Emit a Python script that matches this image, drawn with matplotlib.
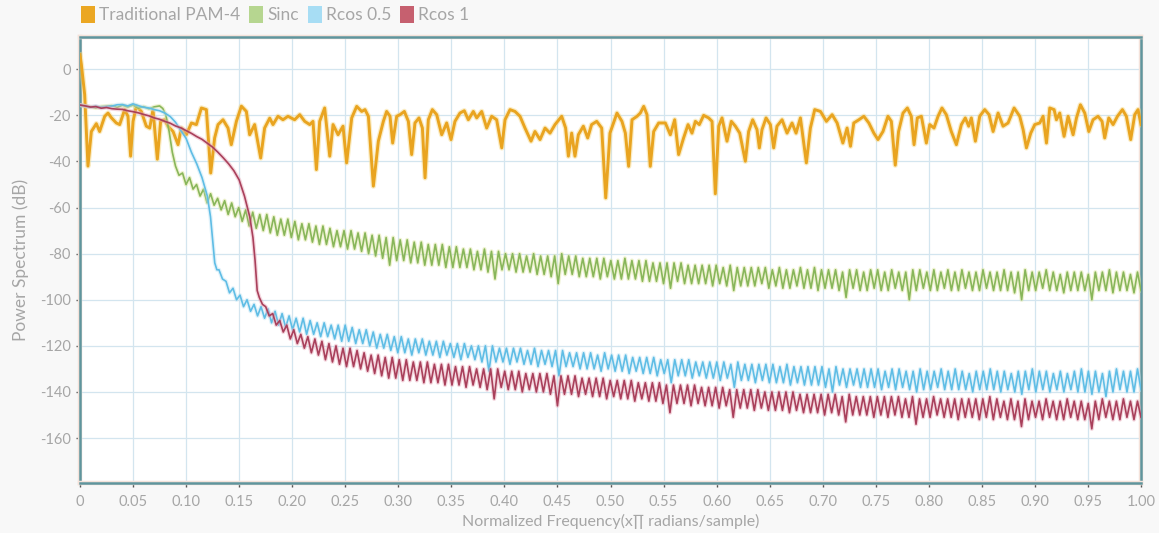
import numpy as np
import matplotlib
matplotlib.use('Agg')
import matplotlib.pyplot as plt
import matplotlib.patheffects as pe
from matplotlib.patches import Patch

######################################
# spectra (dB vs normalised frequency)
######################################

# traditional PAM-4: irregular, so kept as (freq, dB) pairs
pam4_freq = [
    0.0, 0.0013, 0.0044, 0.0075, 0.0107, 0.0154, 0.0185, 0.0233, 0.0264, 0.0295,
    0.0342, 0.0374, 0.0421, 0.0452, 0.0477, 0.0500, 0.0531, 0.0578, 0.0625, 0.0657,
    0.0688, 0.0729, 0.0760, 0.0798, 0.0829, 0.0877, 0.0924, 0.0955, 0.1002, 0.1050,
    0.1097, 0.1144, 0.1191, 0.1232, 0.1269, 0.1301, 0.1348, 0.1395, 0.1426, 0.1474,
    0.1521, 0.1568, 0.1599, 0.1646, 0.1703, 0.1740, 0.1788, 0.1819, 0.1866, 0.1913,
    0.1960, 0.2023, 0.2071, 0.2118, 0.2165, 0.2196, 0.2228, 0.2259, 0.2306, 0.2354,
    0.2385, 0.2432, 0.2479,
    0.2513, 0.2561, 0.2608, 0.2655, 0.2686, 0.2718, 0.2765, 0.2812, 0.2859, 0.2890,
    0.2922, 0.2947, 0.2985, 0.3016, 0.3057, 0.3095, 0.3126, 0.3157, 0.3195, 0.3227,
    0.3252, 0.3283, 0.3321, 0.3362, 0.3409, 0.3456, 0.3497, 0.3534, 0.3581, 0.3622,
    0.3660, 0.3707, 0.3739, 0.3786, 0.3833, 0.3880, 0.3927, 0.3975, 0.4006, 0.4053,
    0.4100, 0.4147, 0.4194, 0.4251, 0.4288, 0.4336, 0.4383, 0.4430, 0.4477, 0.4540,
    0.4577, 0.4603, 0.4634, 0.4665, 0.4697, 0.4744, 0.4785, 0.4822, 0.4870, 0.4917,
    0.4955, 0.4995,
    0.5061, 0.5108, 0.5140, 0.5171, 0.5203, 0.5250, 0.5281, 0.5313, 0.5344, 0.5375,
    0.5407, 0.5454, 0.5517, 0.5564, 0.5605, 0.5642, 0.5689, 0.5731, 0.5768, 0.5800,
    0.5837, 0.5878, 0.5925, 0.5957, 0.5988, 0.6020, 0.6051, 0.6098, 0.6139, 0.6177,
    0.6218, 0.6271, 0.6302, 0.6340, 0.6381, 0.6403, 0.6428, 0.6466, 0.6507, 0.6538,
    0.6569, 0.6617, 0.6664, 0.6711, 0.6749, 0.6790, 0.6846, 0.6884, 0.6925, 0.6979,
    0.7035, 0.7089, 0.7136, 0.7190, 0.7230, 0.7262, 0.7293, 0.7341, 0.7388, 0.7435,
    0.7482,
    0.7521, 0.7568, 0.7615, 0.7647, 0.7684, 0.7715, 0.7757, 0.7798, 0.7835, 0.7861,
    0.7892, 0.7930, 0.7977, 0.8009, 0.8049, 0.8087, 0.8124, 0.8165, 0.8212, 0.8260,
    0.8307, 0.8344, 0.8376, 0.8401, 0.8439, 0.8480, 0.8527, 0.8568, 0.8606, 0.8653,
    0.8700, 0.8747, 0.8804, 0.8857, 0.8889, 0.8920, 0.8961, 0.8999, 0.9046, 0.9077,
    0.9109, 0.9140, 0.9181, 0.9203, 0.9234, 0.9275, 0.9313, 0.9360, 0.9392, 0.9429,
    0.9470, 0.9508, 0.9548, 0.9595, 0.9633, 0.9658, 0.9696, 0.9737, 0.9778, 0.9825,
    0.9862, 0.9903, 0.9941, 0.9972, 1.0,
]
pam4_db = [
    6.3, 2, -11, -42, -27, -23.6, -27, -20.4, -19, -21,
    -23.3, -24, -17.5, -20.4, -37.7, -22.6, -16, -18.3, -24.7, -25.5,
    -17.5, -39, -22.6, -21.9, -24.7, -27, -32.7, -25.5, -28.4, -23.3,
    -24, -16.8, -17.5, -45, -29.8, -24, -21.9, -25.5, -32.7, -22.6,
    -16, -18.3, -28.4, -24, -38.5, -25.5, -21.2, -24, -20.4, -21.9,
    -20.4, -21.9, -19.7, -22.6, -24, -22.6, -43.5, -22.6, -16.8, -37.7,
    -24, -28.4, -24.7,
    -40.6, -21.1, -16.1, -18.3, -17.5, -20.4, -50.7, -31.2, -22.6, -18.3,
    -20.4, -32, -20.4, -19.7, -18.3, -22.6, -37, -23.3, -21.1, -25.5,
    -47.1, -21.9, -17.5, -19.7, -28.4, -23.3, -30.5, -22.6, -19, -18,
    -21.9, -18.3, -21.1, -18.3, -25.5, -20.4, -21.9, -34.1, -21.9, -17.5,
    -18.3, -20.4, -25.5, -31.2, -27, -30.5, -25.5, -27.7, -24, -20.4,
    -25.5, -37.7, -27.7, -37.7, -28.4, -24.7, -29.8, -24, -22.6, -25.5,
    -55.8, -27.7,
    -19, -22.6, -27.7, -42.1, -21.9, -20.4, -19, -16.1, -19.7, -42.1,
    -27, -23.3, -23.3, -28.4, -21.9, -37, -29.8, -24, -27.7, -22.6,
    -24, -20, -21.1, -22.6, -54, -24.7, -21.1, -31.2, -22.6, -24.7,
    -27.7, -39.9, -27, -21.9, -26.2, -34.1, -26.2, -21.1, -24, -34.1,
    -24.7, -21.9, -27.7, -23.3, -27.7, -21.1, -40.6, -25.5, -17.5, -18.3,
    -22.6, -19.7, -23.3, -32, -25.5, -33.4, -23.3, -21.9, -20.4, -23.3,
    -27.7,
    -30.5, -27, -20.4, -22.6, -41.6, -27, -19, -16.8, -20.4, -32.7,
    -21.1, -20.4, -32, -24, -25.5, -20.4, -16.8, -19.7, -27, -32.7,
    -24, -21.1, -24.7, -21.1, -31.2, -20.4, -17.5, -19.7, -27, -19,
    -24.7, -23.3, -16.8, -20.4, -26.2, -34.1, -27.7, -24, -23.3, -20.4,
    -32, -16.8, -17.5, -21.9, -19, -29.1, -20.4, -28.4, -21.1, -15.4,
    -19, -27, -21.9, -20.4, -22.6, -29.8, -21.1, -24, -20.4, -17.5,
    -20.4, -30.5, -19.7, -17.5, -24,
]

# shaped pulses: flat passband (head) then a sidelobe ripple,
# stored as one peak and one notch value per ripple period
sinc_head_freq = [0, 0.005, 0.01, 0.015, 0.02, 0.025, 0.03, 0.035, 0.04, 0.045,
                  0.05, 0.055, 0.06, 0.065, 0.07, 0.075, 0.078, 0.081, 0.084, 0.087]
sinc_head_db = [-15.5, -16, -16.3, -16.8, -16.2, -16, -15.8, -16.5, -15.6, -16.4,
                -15.5, -16.8, -16.2, -17.2, -16.3, -15.9, -17, -20, -27, -36]
sinc_ripple_from = 0.09
sinc_peaks = [
    -42, -45, -47, -50, -52, -54, -56, -57, -58, -60,
    -61, -62, -63, -63, -64, -65, -65, -66, -67, -67,
    -68, -68, -69, -70, -70, -70, -71, -71, -72, -72,
    -73, -73, -74, -74, -75, -75, -76, -76, -76, -77,
    -77, -78, -78, -79, -78, -79, -79, -80, -80, -80,
    -81, -80, -81, -81, -81, -80, -81, -81, -82, -82,
    -82, -82, -83, -83, -82, -83, -83, -83, -84, -84,
    -84, -84, -84, -85, -85, -85, -85, -85, -86, -85,
    -86, -86, -86, -86, -86, -87, -86, -87, -87, -86,
    -87, -86, -87, -87, -87, -88, -87, -87, -88, -87,
    -87, -88, -87, -88, -88, -87, -87, -88, -87, -88,
    -87, -88, -87, -88, -88, -87, -88, -88, -87, -88,
    -88, -87, -88, -88, -87, -88, -89, -88, -88, -88,
    -89, -88, -88, -87, -88, -88, -89, -88,
]
sinc_notches = [
    -46, -50, -52, -55, -58, -59, -61, -63, -64, -66,
    -68, -69, -70, -71, -72, -72, -73, -74, -74, -75,
    -76, -76, -77, -77, -78, -78, -79, -80, -81, -82,
    -85, -83, -83, -84, -84, -85, -85, -85, -86, -86,
    -86, -86, -87, -87, -88, -91, -87, -87, -88, -88,
    -88, -89, -89, -90, -93, -89, -89, -90, -90, -90,
    -91, -90, -91, -91, -91, -91, -92, -92, -92, -93,
    -95, -92, -93, -93, -93, -93, -94, -93, -94, -96,
    -94, -94, -94, -93, -95, -94, -95, -95, -94, -95,
    -95, -96, -95, -95, -96, -99, -95, -96, -96, -95,
    -96, -96, -95, -96, -100, -96, -95, -96, -96, -95,
    -96, -96, -95, -96, -96, -95, -96, -96, -96, -97,
    -100, -96, -96, -95, -96, -96, -97, -96, -96, -96,
    -100, -96, -96, -97, -96, -96, -97, -96,
]

rcos05_head_freq = [0, 0.005, 0.01, 0.015, 0.02, 0.025, 0.03, 0.035, 0.04, 0.045,
                    0.05, 0.055, 0.06, 0.065, 0.07, 0.075, 0.08, 0.085, 0.09, 0.095,
                    0.1, 0.105, 0.11, 0.115, 0.12, 0.123, 0.125, 0.127, 0.129]
rcos05_head_db = [-15.5, -16, -16.4, -16, -16.6, -16.2, -16, -15.4, -15.3, -15.9,
                  -15, -15.8, -16.5, -16.8, -17.5, -18, -19, -20.5, -23, -26.5,
                  -30, -36, -41, -47, -55, -64, -74, -84, -87]
rcos05_ripple_from = 0.131
rcos05_peaks = [
    -87, -92, -95, -98, -100, -102, -103, -104, -105, -106,
    -107, -108, -108, -109, -110, -110, -111, -111, -111, -112,
    -113, -113, -114, -115, -115, -116, -116, -117, -117, -117,
    -118, -118, -118, -119, -119, -119, -120, -120, -120, -120,
    -121, -121, -121, -121, -122, -121, -122, -122, -122, -122,
    -123, -123, -123, -123, -124, -123, -124, -124, -124, -125,
    -125, -125, -125, -126, -126, -126, -126, -126, -127, -127,
    -127, -127, -127, -128, -127, -128, -128, -128, -128, -128,
    -129, -128, -129, -129, -129, -129, -129, -130, -129, -130,
    -130, -130, -130, -130, -130, -131, -130, -130, -131, -131,
    -130, -131, -131, -130, -131, -130, -131, -132, -131, -131,
    -130, -131, -131, -132, -131, -131, -130, -131, -131, -132,
    -131, -132, -131, -130, -131, -131, -132, -131, -130, -131,
    -131, -130,
]
rcos05_notches = [
    -91, -97, -100, -103, -105, -107, -108, -110, -111, -112,
    -113, -114, -115, -115, -116, -116, -117, -118, -118, -119,
    -119, -120, -121, -121, -122, -123, -123, -124, -123, -124,
    -124, -125, -124, -125, -126, -125, -126, -127, -131, -127,
    -127, -128, -127, -128, -128, -129, -128, -129, -133, -129,
    -129, -130, -130, -130, -131, -130, -131, -131, -132, -131,
    -132, -132, -133, -132, -136, -133, -133, -134, -133, -134,
    -134, -135, -134, -138, -135, -135, -136, -135, -136, -136,
    -136, -137, -136, -137, -137, -137, -138, -140, -137, -138,
    -137, -138, -138, -138, -139, -138, -139, -138, -139, -140,
    -139, -139, -138, -139, -139, -139, -139, -140, -139, -139,
    -139, -140, -139, -140, -141, -139, -140, -139, -140, -139,
    -140, -139, -140, -140, -141, -140, -142, -140, -139, -140,
    -140, -139,
]

rcos1_head_freq = [0, 0.005, 0.01, 0.015, 0.02, 0.025, 0.03, 0.035, 0.04, 0.045,
                   0.05, 0.055, 0.06, 0.065, 0.07, 0.075, 0.08, 0.085, 0.09, 0.095,
                   0.1, 0.105, 0.11, 0.115, 0.12, 0.125, 0.13, 0.135, 0.14, 0.145,
                   0.15, 0.155, 0.16, 0.163, 0.165, 0.167, 0.169, 0.172]
rcos1_head_db = [-15.5, -15.9, -16.4, -16.2, -16.9, -16.6, -17.1, -17.3, -17.4, -18,
                 -18.4, -18.9, -19.6, -20.2, -21.1, -21.7, -22.6, -23.4, -24.6, -25.4,
                 -26.6, -27.8, -29.2, -30.4, -32.1, -33.8, -36, -38.4, -41, -44,
                 -48, -55, -64, -73, -83, -96, -99, -102]
rcos1_ripple_from = 0.175
rcos1_peaks = [
    -103, -106, -109, -111, -113, -115, -116, -117, -118, -119,
    -120, -121, -121, -122, -123, -124, -124, -125, -125, -126,
    -126, -127, -127, -127, -128, -128, -128, -129, -129, -129,
    -130, -130, -130, -130, -131, -131, -131, -132, -132, -132,
    -132, -133, -133, -133, -133, -134, -134, -134, -134, -135,
    -135, -135, -135, -136, -136, -136, -136, -137, -137, -137,
    -137, -137, -138, -138, -138, -138, -139, -139, -139, -139,
    -139, -140, -140, -140, -140, -140, -141, -141, -141, -141,
    -141, -141, -142, -141, -142, -142, -142, -142, -142, -142,
    -142, -143, -142, -143, -143, -142, -143, -143, -143, -143,
    -143, -143, -143, -142, -143, -144, -143, -144, -143, -144,
    -144, -143, -144, -144, -143, -144, -144, -145, -144, -143,
    -144, -144, -143, -144, -144,
]
rcos1_notches = [
    -107, -111, -114, -117, -119, -121, -123, -124, -126, -127,
    -128, -129, -129, -130, -131, -132, -133, -134, -134, -135,
    -135, -135, -136, -136, -136, -137, -137, -137, -138, -137,
    -138, -139, -143, -138, -139, -139, -140, -139, -140, -140,
    -141, -146, -141, -141, -142, -141, -142, -142, -143, -142,
    -143, -143, -144, -143, -144, -144, -145, -149, -145, -145,
    -146, -145, -146, -146, -147, -146, -151, -147, -147, -148,
    -147, -148, -148, -148, -149, -148, -149, -149, -149, -150,
    -149, -150, -153, -150, -150, -150, -151, -150, -151, -150,
    -151, -151, -154, -151, -151, -150, -151, -151, -152, -151,
    -151, -152, -151, -152, -151, -152, -152, -155, -152, -151,
    -152, -151, -152, -152, -151, -152, -152, -156, -152, -151,
    -152, -152, -151, -152, -151,
]

labels = ['Traditional PAM-4', 'Sinc', 'Rcos 0.5', 'Rcos 1']
colors = ['#E9A420', '#88B65A', '#5FBDE5', '#A9405B']
legend_colors = ['#EBA723', '#B6D690', '#A7DDF4', '#C6606F']
halos = ['#F6D77E', '#DCE49A', '#BDE4F5', '#E7A6B7']

assert len(pam4_freq) == len(pam4_db)
assert len(sinc_peaks) == len(sinc_notches)
assert len(rcos05_peaks) == len(rcos05_notches)
assert len(rcos1_peaks) == len(rcos1_notches)


def spectrum(head_f, head_db, ripple_from, peaks, notches):
    # peaks and notches alternate evenly from ripple_from up to 1.0
    n = len(peaks)
    f = np.linspace(ripple_from, 1.0, 2 * n)
    db = np.empty(2 * n)
    db[0::2] = peaks
    db[1::2] = notches
    return np.concatenate([head_f, f]), np.concatenate([head_db, db])


sinc_f, sinc_db = spectrum(sinc_head_freq, sinc_head_db, sinc_ripple_from, sinc_peaks, sinc_notches)
r05_f, r05_db = spectrum(rcos05_head_freq, rcos05_head_db, rcos05_ripple_from, rcos05_peaks, rcos05_notches)
r1_f, r1_db = spectrum(rcos1_head_freq, rcos1_head_db, rcos1_ripple_from, rcos1_peaks, rcos1_notches)

######################################
# figure
######################################
plt.rcParams['font.family'] = ['Lato', 'DejaVu Sans']
plt.rcParams['axes.unicode_minus'] = False
text_grey = '#A6A6A6'

fig = plt.figure(figsize=(11.59, 5.33), dpi=100, facecolor='#F8F8F8')
ax = fig.add_axes([80 / 1159, 1 - 483 / 533, 1061 / 1159, 446 / 533])
ax.set_facecolor('white')

series = [(sinc_f, sinc_db, 1), (r05_f, r05_db, 2), (r1_f, r1_db, 3),
          (np.array(pam4_freq), np.array(pam4_db), 0)]
for f, db, i in series:
    lw = 2.1 if i == 0 else 1.2
    ax.plot(f, db, color=colors[i], lw=lw, solid_joinstyle='round', zorder=3 + i,
            path_effects=[pe.Stroke(linewidth=lw + 1.8, foreground=halos[i], alpha=0.45),
                          pe.Normal()])

ax.set_xlim(0, 1.0)
ax.set_ylim(-179.5, 14)
xt = np.round(np.arange(0, 1.0001, 0.05), 2)
ax.set_xticks(xt)
ax.set_xticklabels(['0'] + ['%.2f' % v for v in xt[1:]])
ax.set_yticks(np.arange(-160, 1, 20))

ax.grid(True, color='#D3E5EF', lw=0.9, zorder=0)
ax.set_axisbelow(True)
ax.tick_params(axis='both', length=3, width=1, color='#555555',
               labelcolor=text_grey, labelsize=10.5)
ax.tick_params(axis='x', pad=6)

for s in ax.spines.values():
    s.set_color('#5F959D')
    s.set_linewidth(1.8)
    s.set_path_effects([pe.Stroke(linewidth=3.2, foreground='#F4E2DA'), pe.Normal()])

ax.set_xlabel('Normalized Frequency(x\u220f radians/sample)', color=text_grey,
              fontsize=11.5, labelpad=3)
ax.set_ylabel('Power Spectrum (dB)', color=text_grey, fontsize=12.5, labelpad=8)

handles = [Patch(facecolor=c, edgecolor='none') for c in legend_colors]
fig.legend(handles, labels, loc='upper left', bbox_to_anchor=(0.0565, 1.018),
           ncol=4, frameon=False, fontsize=12.5, labelcolor=text_grey,
           handlelength=0.8, handleheight=1.1, handletextpad=0.25,
           columnspacing=0.5)

fig.savefig('out.png', dpi=100, facecolor=fig.get_facecolor())
